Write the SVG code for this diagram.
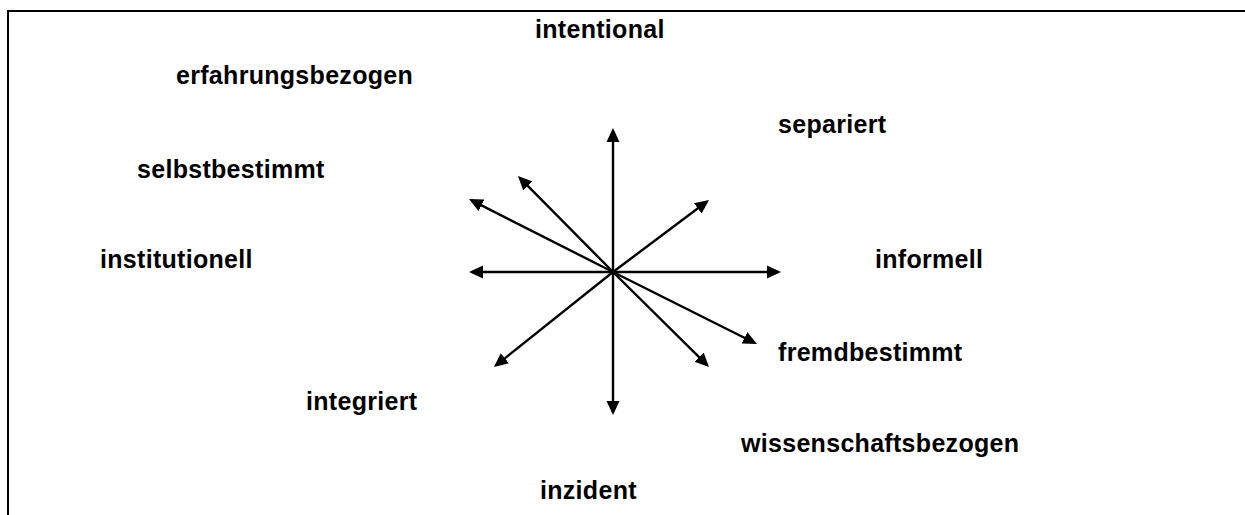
<svg xmlns="http://www.w3.org/2000/svg" width="1245" height="515" viewBox="0 0 1245 515">
<style>
.lbl{font-family:"Liberation Sans",Arial,sans-serif;font-weight:bold;font-size:25px;letter-spacing:0.3px;fill:#000}
.ray{stroke:#000;stroke-width:2.4;fill:none;marker-end:url(#ah)}
.frame{stroke:#000;stroke-width:2;fill:none}
</style>
<defs>
<marker id="ah" markerUnits="userSpaceOnUse" markerWidth="14" markerHeight="14" refX="11" refY="7" orient="auto">
<path d="M0,0.5 L14,7 L0,13.5 z" fill="#000"/>
</marker>
</defs>
<rect width="1245" height="515" fill="#fff"/>
<path class="frame" d="M8,515 L8,11 L1245,11"/>
<g id="connectors">
<line class="ray" x1="613" y1="272" x2="613" y2="131"/>
<line class="ray" x1="613" y1="272" x2="613" y2="412"/>
<line class="ray" x1="613" y1="272" x2="472" y2="272"/>
<line class="ray" x1="613" y1="272" x2="778" y2="272"/>
<line class="ray" x1="613" y1="272" x2="520.1" y2="178.1"/>
<line class="ray" x1="613" y1="272" x2="471.7" y2="200.4"/>
<line class="ray" x1="613" y1="272" x2="706.6" y2="201.8"/>
<line class="ray" x1="613" y1="272" x2="496.3" y2="365.1"/>
<line class="ray" x1="613" y1="272" x2="706.9" y2="364.9"/>
<line class="ray" x1="613" y1="272" x2="754.3" y2="342.7"/>
</g>
<g id="intentional"><text class="lbl" x="535" y="38">intentional</text></g>
<g id="erfahrungsbezogen"><text class="lbl" x="176" y="84">erfahrungsbezogen</text></g>
<g id="selbstbestimmt"><text class="lbl" x="137" y="178">selbstbestimmt</text></g>
<g id="institutionell"><text class="lbl" x="100" y="268">institutionell</text></g>
<g id="separiert"><text class="lbl" x="778" y="133">separiert</text></g>
<g id="informell"><text class="lbl" x="875" y="268">informell</text></g>
<g id="fremdbestimmt"><text class="lbl" x="778" y="361">fremdbestimmt</text></g>
<g id="integriert"><text class="lbl" x="306" y="410">integriert</text></g>
<g id="wissenschaftsbezogen"><text class="lbl" x="741" y="452">wissenschaftsbezogen</text></g>
<g id="inzident"><text class="lbl" x="540" y="499">inzident</text></g>
</svg>
